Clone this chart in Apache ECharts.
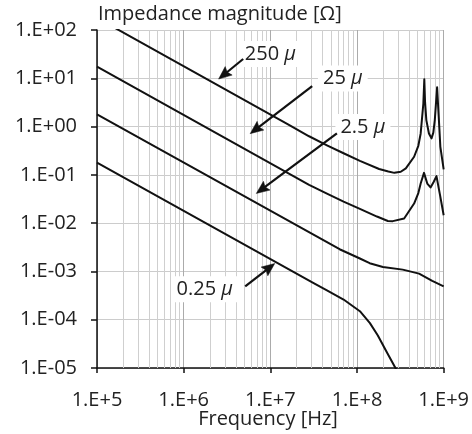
<!DOCTYPE html>
<html><head><meta charset="utf-8">
<script src="https://cdn.jsdelivr.net/npm/echarts@6/dist/echarts.min.js"></script>
<style>html,body{margin:0;padding:0;background:#fff}#c{width:472px;height:434px}</style>
</head><body><div id="c"></div>
<script>
// ---------- data ----------
const xTickLabels = ['1.E+5','1.E+6','1.E+7','1.E+8','1.E+9'];
const yTickLabels = ['1.E-05','1.E-04','1.E-03','1.E-02','1.E-01','1.E+00','1.E+01','1.E+02'];
const decadeStarts = [1e5, 1e6, 1e7, 1e8];
const minorMultipliers = [2, 3, 4, 5, 6, 7, 8, 9];

// 250 µ curve
const freq250 = [1e5, 1.6e7, 2.8e7, 4.5e7, 7e7, 1.08e8, 1.8e8, 2.3e8, 2.7e8, 3.2e8, 3.66e8, 4.56e8, 5.1e8, 5.43e8, 5.83e8, 5.98e8, 6.1e8, 6.31e8, 6.76e8, 7.24e8, 7.6e8, 7.9e8, 8.4e8, 8.77e8, 9.16e8, 1e9];
const mag250  = [178, 1.11, 0.63, 0.41, 0.28, 0.195, 0.132, 0.117, 0.11, 0.116, 0.136, 0.237, 0.4, 0.72, 3.0, 9.5, 3.2, 1.36, 0.72, 0.57, 0.75, 1.36, 6.5, 1.6, 0.38, 0.13];
// 25 µ curve
const freq25 = [1e5, 1.6e7, 2.8e7, 4.5e7, 7e7, 1.08e8, 1.7e8, 2.27e8, 2.59e8, 3.5e8, 4.56e8, 5.1e8, 5.43e8, 5.93e8, 6.47e8, 7.06e8, 7.69e8, 8.26e8, 9.16e8, 1e9];
const mag25  = [17.4, 0.109, 0.062, 0.041, 0.028, 0.0197, 0.0137, 0.0111, 0.011, 0.0125, 0.0255, 0.042, 0.066, 0.11, 0.066, 0.055, 0.072, 0.094, 0.035, 0.0146];
// 2.5 µ curve
const freq2p5 = [1e5, 6.3e7, 1.08e8, 1.4e8, 1.99e8, 3.37e8, 5.2e8, 7.38e8, 1e9];
const mag2p5  = [1.79, 0.00288, 0.00185, 0.00148, 0.00124, 0.00109, 0.0009, 0.000635, 0.00049];
// 0.25 µ curve
const freq0p25 = [1e5, 3.16e7, 4.5e7, 7e7, 1.08e8, 1.41e8, 1.74e8, 2.17e8, 2.82e8, 3.0e8];
const mag0p25  = [0.18, 5.7e-4, 4.05e-4, 2.62e-4, 1.5e-4, 8.5e-5, 4.7e-5, 2.24e-5, 9.5e-6, 6e-6];

// annotations (data coordinates)
const annoText = ['250', '25', '2.5', '0.25'];
const annoLabelAt = [[1.0e7, 31.8], [6.86e7, 9.9], [1.17e8, 0.975], [1.75e6, 4.28e-4]];
const annoArrowFrom = [[4.86e6, 25.1], [3.04e7, 6.9], [5.86e7, 0.722], [5.13e6, 4.93e-4]];
const annoArrowTo = [[2.53e6, 9.64], [5.85e6, 0.714], [6.89e6, 0.0412], [1.125e7, 1.46e-3]];

// ---------- chart ----------
const FONT = '"Open Sans", "Noto Sans", sans-serif';
const FS = 20;
const chart = echarts.init(document.getElementById('c'));

const zip = (xs, ys) => xs.map((x, i) => [x, ys[i]]);
const minorFreqs = [];
decadeStarts.forEach(d => minorMultipliers.forEach(m => minorFreqs.push(d * m)));

const curveStyle = { color: '#111', width: 2, join: 'round' };
const curves = [[freq250, mag250], [freq25, mag25], [freq2p5, mag2p5], [freq0p25, mag0p25]];

chart.setOption({
  animation: false,
  grid: { left: 97, right: 24, top: 30, bottom: 66, containLabel: false },
  xAxis: {
    type: 'log', logBase: 10, min: 1e5, max: 1e9, interval: 1,
    axisLine: { show: true, onZero: false, lineStyle: { color: '#111', width: 1.5 } },
    axisTick: { show: true, length: 5, lineStyle: { color: '#111', width: 1.5 } },
    axisLabel: {
      margin: 22, fontFamily: FONT, fontSize: FS, color: '#222',
      formatter: v => xTickLabels[Math.round(Math.log10(v)) - 5]
    },
    splitLine: { show: true, lineStyle: { color: '#ababab', width: 1 } },
    minorTick: { show: false }
  },
  yAxis: {
    type: 'log', logBase: 10, min: 1e-5, max: 1e2, interval: 1,
    axisLine: { show: true, onZero: false, lineStyle: { color: '#111', width: 1.5 } },
    axisTick: { show: true, length: 6, lineStyle: { color: '#111', width: 1.5 } },
    axisLabel: {
      margin: 20, fontFamily: FONT, fontSize: FS, color: '#222',
      formatter: v => yTickLabels[Math.round(Math.log10(v)) + 5]
    },
    splitLine: { show: true, lineStyle: { color: '#cccccc', width: 1 } }
  },
  series: [
    {
      type: 'line', z: 1, silent: true, data: [[1e5, 1e-5]], symbol: 'none',
      lineStyle: { opacity: 0 },
      markLine: {
        z: 1, silent: true, animation: false, symbol: ['none', 'none'],
        label: { show: false }, emphasis: { disabled: true },
        lineStyle: { color: '#cfcfcf', width: 1, type: 'solid' },
        data: minorFreqs.map(v => ({ xAxis: v }))
      }
    },
    ...curves.map((c, i) => ({
      type: 'line', z: 10 + i, name: annoText[i], data: zip(c[0], c[1]),
      symbol: 'none', smooth: false, clip: true,
      lineStyle: curveStyle, silent: true
    }))
  ]
});

// annotations drawn through the grid's coordinate conversion
const els = [];
const px = p => chart.convertToPixel({ gridIndex: 0 }, p);
annoArrowFrom.forEach((from, i) => {
  const p0 = px(from), p1 = px(annoArrowTo[i]);
  const dx = p1[0] - p0[0], dy = p1[1] - p0[1], L = Math.hypot(dx, dy);
  const ux = dx / L, uy = dy / L, nx = -uy, ny = ux;
  const hl = 13, hw = 5.5;
  const bx = p1[0] - ux * hl, by = p1[1] - uy * hl;
  els.push({ type: 'line', z: 101, silent: true,
    shape: { x1: p0[0], y1: p0[1], x2: bx + ux * 3, y2: by + uy * 3 },
    style: { stroke: '#111', lineWidth: 2.2 } });
  els.push({ type: 'polygon', z: 102, silent: true,
    shape: { points: [[p1[0], p1[1]], [bx + nx * hw, by + ny * hw], [bx + ux * 2, by + uy * 2], [bx - nx * hw, by - ny * hw]] },
    style: { fill: '#111', stroke: '#111', lineWidth: 0.5 } });
});
annoLabelAt.forEach((p, i) => {
  const q = px(p);
  els.push({ type: 'text', z: 100, silent: true, x: q[0], y: q[1],
    style: {
      text: '{n|' + annoText[i] + ' }{m|μ}',
      rich: {
        n: { fontFamily: FONT, fontSize: FS, fill: '#222' },
        m: { fontFamily: FONT, fontSize: FS, fontStyle: 'italic', fill: '#222' }
      },
      fontFamily: FONT, fontSize: FS,
      align: 'center', verticalAlign: 'middle',
      backgroundColor: '#fff', padding: [3, 5]
    } });
});
// axis titles
els.push({ type: 'text', z: 100, silent: true, x: 98, y: 14,
  style: { text: 'Impedance magnitude [Ω]', fontFamily: FONT, fontSize: FS, fill: '#222', align: 'left', verticalAlign: 'middle' } });
els.push({ type: 'text', z: 100, silent: true, x: 268, y: 419,
  style: { text: 'Frequency [Hz]', fontFamily: FONT, fontSize: FS, fill: '#222', align: 'center', verticalAlign: 'middle' } });

chart.setOption({ graphic: { elements: els } });
</script></body></html>
